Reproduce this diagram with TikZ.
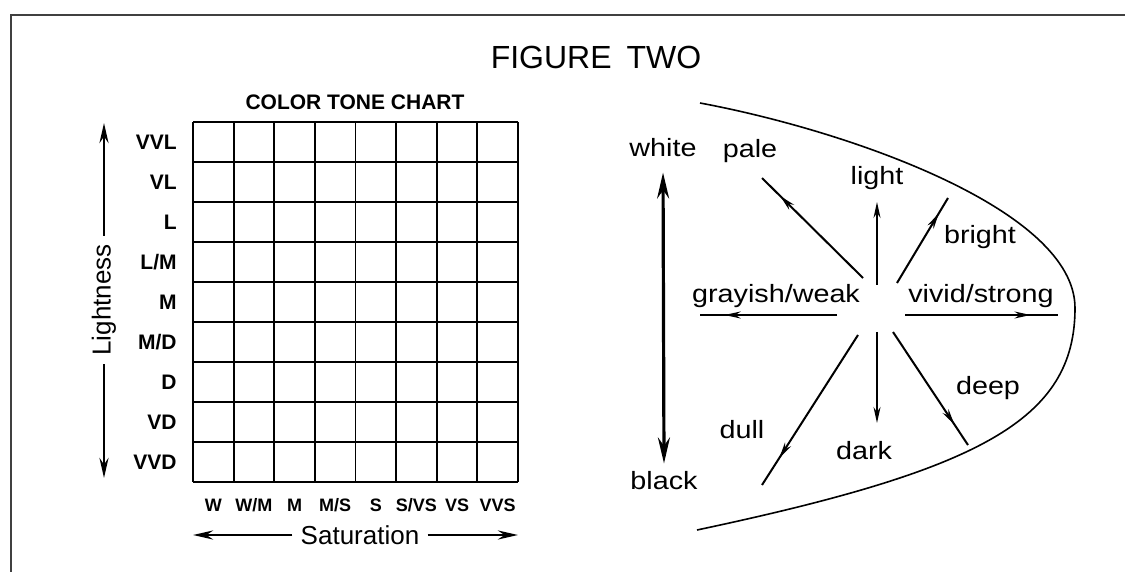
\documentclass[tikz,border=0pt]{standalone}
\usepackage{fontspec}
\setmainfont{Liberation Sans}
\newfontfamily\widefont[FakeStretch=1.15]{Liberation Sans}
\usetikzlibrary{arrows.meta,decorations.markings}
\tikzset{
  every picture/.style={draw=black, text=black},
}

\begin{document}
\begin{tikzpicture}[x=0.5pt,y=-0.5pt,
  every node/.style={inner sep=4pt},
  cell/.style={line width=0.9pt},
  rowlab/.style={anchor=east, inner sep=0pt, font=\fontsize{10.5}{12}\selectfont\bfseries},
  collab/.style={inner sep=0pt, font=\fontsize{9}{10}\selectfont\bfseries},
  axislab/.style={font=\fontsize{13}{15}\selectfont},
  tone/.style={font=\widefont\fontsize{12.5}{14}\selectfont},
  axisarrow/.style={line width=1.3pt, -{Stealth[length=10pt,width=4.5pt]}},
  ray/.style={line width=1pt, postaction={decorate},
    decoration={markings, mark=at position 0.82 with {\arrow{Stealth[length=8pt,width=3.5pt]}}}}]
\useasboundingbox (0,0) rectangle (1125,572);
% Frame and title
\draw[black!75,line width=1.3pt] (11,572) -- (11,15) -- (1125,15);
\node (title) at (596,57) {\fontsize{16}{19}\selectfont FIGURE\hspace{3pt} TWO};
% Color tone chart
\node[inner sep=0pt,font=\fontsize{10.5}{12}\selectfont\bfseries] (chart) at (355,102) {COLOR TONE CHART};
\foreach \i in {0,...,8}{
  \draw[cell] ({193+40.625*\i},122) -- ({193+40.625*\i},482);
}
\foreach \j in {0,...,9}{
  \draw[cell] (193,{122+40*\j}) -- (518,{122+40*\j});
}
\foreach \lab [count=\j from 0] in {VVL,VL,L,L/M,M,M/D,D,VD,VVD}{
  \node[rowlab] (row\j) at (177,{142+40*\j}) {\lab};
}
\foreach \lab [count=\i from 0] in {W,W/M,M,M/S,S,S/VS,VS,VVS}{
  \node[collab] (col\i) at ({213.3+40.625*\i},505) {\lab};
}
% Axes of the chart
\node[axislab,rotate=90] (lightness) at (104,300) {Lightness};
\coordinate (lighttop) at (104,123);
\coordinate (lightbot) at (104,478);
\draw[axisarrow] (lightness.east) -- (lighttop);
\draw[axisarrow] (lightness.west) -- (lightbot);
\node[axislab] (saturation) at (360,535) {Saturation};
\coordinate (satleft) at (193,535);
\coordinate (satright) at (518,535);
\draw[axisarrow] (saturation.west) -- (satleft);
\draw[axisarrow] (saturation.east) -- (satright);
% Tone diagram
\draw[line width=0.8pt] (700,103) .. controls (850,131) and (1075,210) .. (1075,308)
  .. controls (1075,420) and (980,470) .. (697,530);
\node[tone] (white) at (663,148) {white};
\node[tone] (black) at (664,481) {black};
\draw[line width=1.6pt, {Stealth[length=13pt,width=6pt]}-{Stealth[length=13pt,width=6pt]},
  shorten <=3.5pt] (white.south) -- (black.north);
\node[tone] (pale) at (750,151) {pale};
\node[tone] (light) at (877,178) {light};
\node[tone] (bright) at (980,237) {bright};
\node[tone] (grayish) at (776,296) {grayish/weak};
\node[tone] (vivid) at (981,296) {vivid/strong};
\node[tone] (dull) at (742,430) {dull};
\node[tone] (dark) at (864,451) {dark};
\node[tone] (deep) at (988,388) {deep};
\foreach \nm/\sx/\sy/\ex/\ey in {pale/863/278/762/178, bright/897/283/948/198,
    grayish/837/315/700/315, vivid/905/315/1058/315,
    dull/858/335/762/485, deep/893/332/968/445}{
  \coordinate (\nm s) at (\sx,\sy);
  \coordinate (\nm e) at (\ex,\ey);
  \draw[ray] (\nm s) -- (\nm e);
}
\coordinate (lights) at (877,285);
\coordinate (lighte) at (877,202);
\coordinate (darks) at (877,332);
\coordinate (darke) at (877,423);
\draw[line width=1pt, -{Stealth[length=8pt,width=3.5pt]}] (lights) -- (lighte);
\draw[line width=1pt, -{Stealth[length=8pt,width=3.5pt]}] (darks) -- (darke);
\end{tikzpicture}
\end{document}
